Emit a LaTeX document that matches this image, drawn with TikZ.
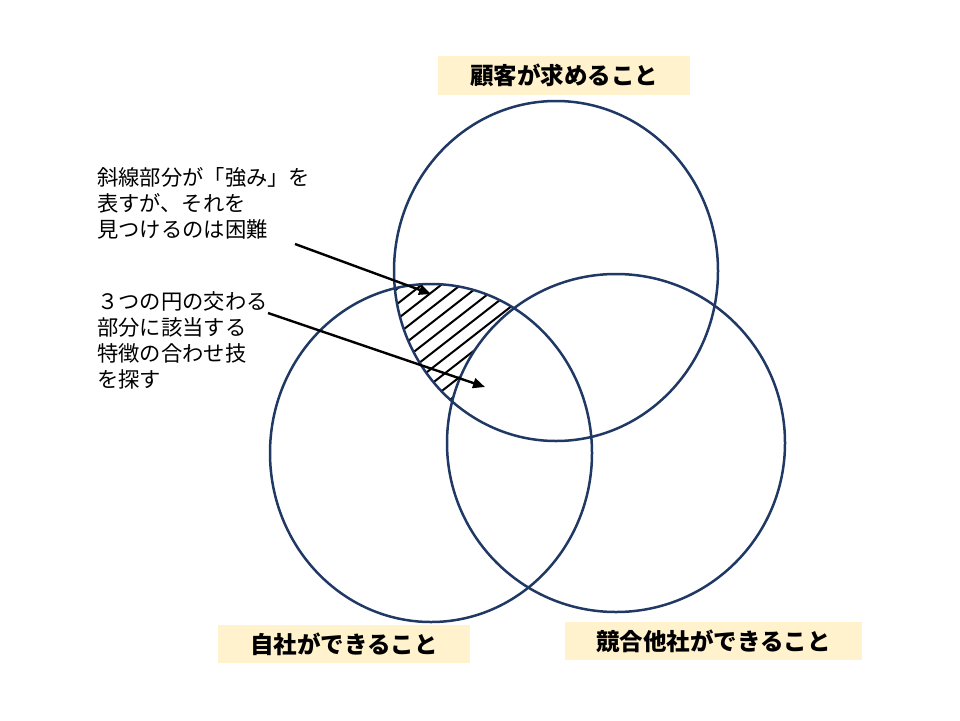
\documentclass[tikz,border=0pt]{standalone}
\usepackage{fontspec}
\usepackage{xcolor}
\usetikzlibrary{arrows.meta}
\setmainfont{Noto Sans CJK JP}
\definecolor{kon}{HTML}{203864}
\definecolor{kiiro}{HTML}{FFF2CC}

\begin{document}
\begin{tikzpicture}[x=1pt,y=-1pt,
        en/.style={draw=kon, line width=2.5pt},
        midashi/.style={fill=kiiro, inner sep=0pt, font=\fontsize{23.5}{28}\selectfont\bfseries},
        setsumei/.style={anchor=west, align=left, inner sep=0pt, font=\fontsize{21.3}{26}\selectfont},
        yajirushi/.style={-{Triangle[length=12pt,width=10pt]}, line width=2.4pt},
        shasen/.style={line width=2pt}]
        \useasboundingbox (0,0) rectangle (960,720);

        \coordinate (O_1) at (556,271);
        \coordinate (O_2) at (431,453);
        \coordinate (O_3) at (616,443);

        \coordinate (A_1) at (295,244);
        \coordinate (B_1) at (431,294);
        \coordinate (A_2) at (268,313);
        \coordinate (B_2) at (485,387);

        \begin{scope}[even odd rule]
        \clip (O_1) ellipse [x radius=162, y radius=170];
        \clip (O_2) ellipse [x radius=161, y radius=169];
        \clip (0,0) rectangle (960,720) (O_3) ellipse [x radius=169, y radius=169];
        \foreach \d in {-12,...,12}
            \draw[shasen] ({455+\d*7.4-118},{335+\d*9.46+92}) -- ({455+\d*7.4+118},{335+\d*9.46-92});
        \end{scope}

        \draw[en] (O_1) ellipse [x radius=162, y radius=170];
        \draw[en] (O_2) ellipse [x radius=161, y radius=169];
        \draw[en] (O_3) ellipse [x radius=169, y radius=169];

        \node[midashi, minimum width=252pt, minimum height=39pt] (L_1) at (564,75.5) {顧客が求めること};
        \node[midashi, minimum width=252pt, minimum height=38pt] (L_2) at (344,644) {自社ができること};
        \node[midashi, minimum width=297pt, minimum height=38pt] (L_3) at (713.5,641) {競合他社ができること};

        \node[setsumei] (T_1) at (97,203) {斜線部分が「強み」を\\表すが、それを\\見つけるのは困難};
        \node[setsumei] (T_2) at (97,340) {３つの円の交わる\\部分に該当する\\特徴の合わせ技\\を探す};

        \draw[yajirushi] (A_1) -- (B_1);
        \draw[yajirushi] (A_2) -- (B_2);
\end{tikzpicture}
\end{document}
